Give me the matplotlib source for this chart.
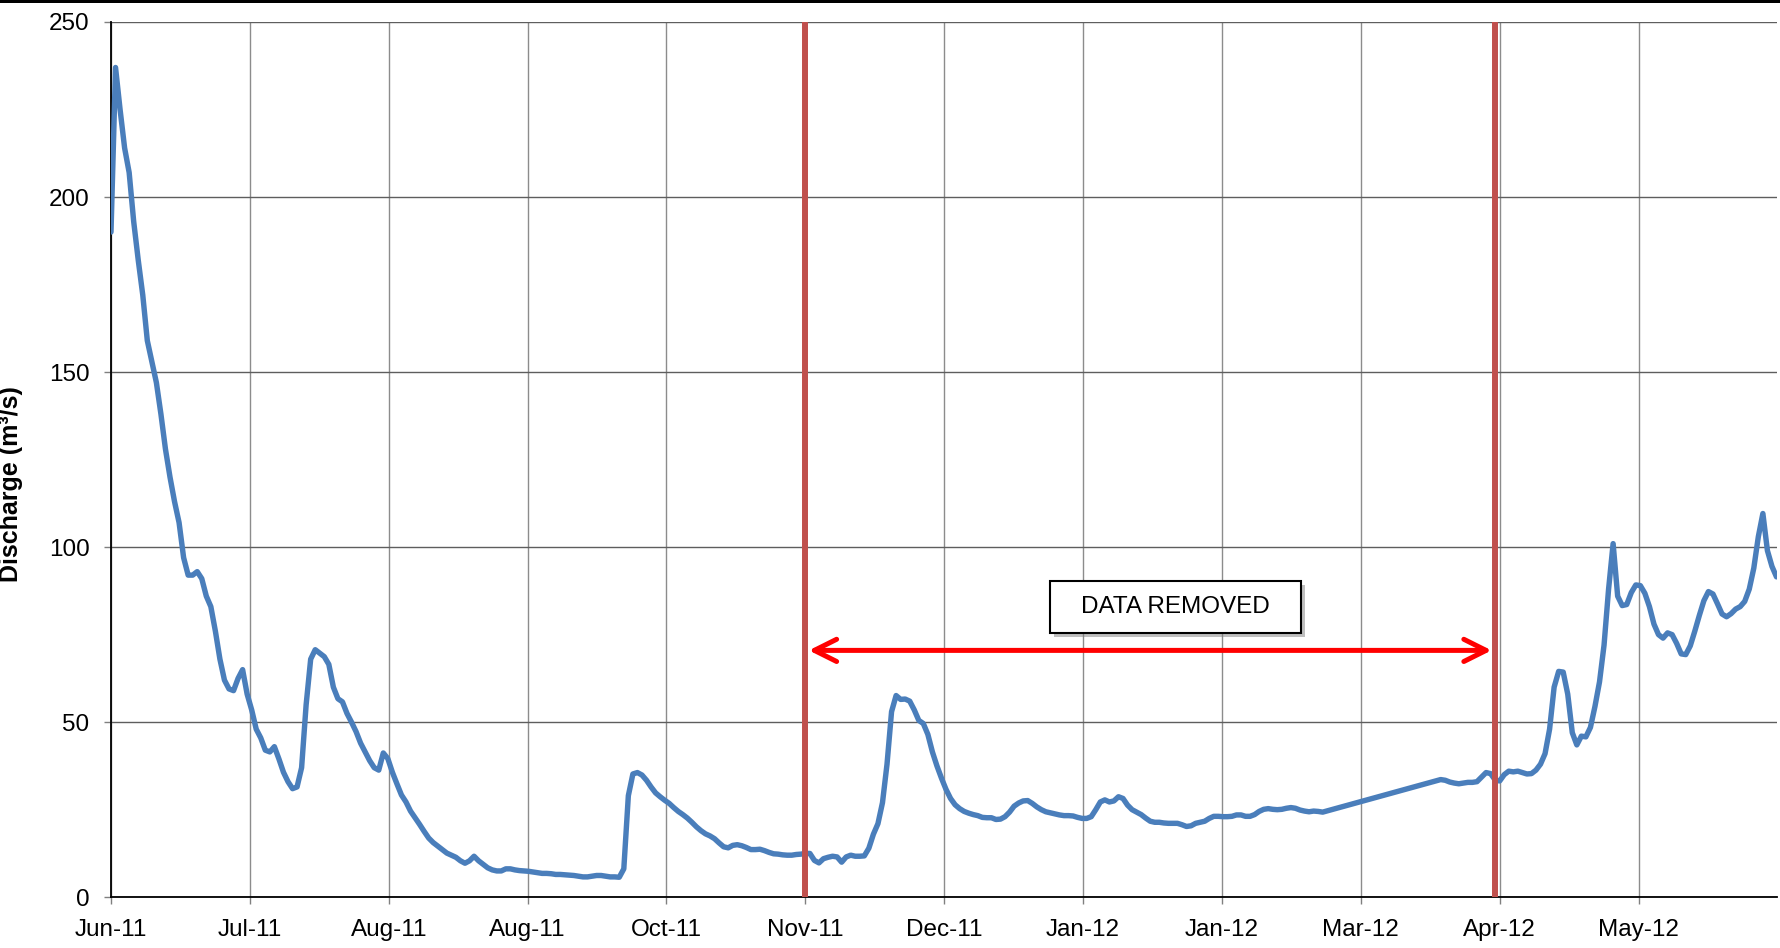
import numpy as np
import pandas as pd
import matplotlib
matplotlib.use("Agg")
import matplotlib.pyplot as plt
import matplotlib.dates as mdates
from matplotlib.ticker import FixedLocator
from matplotlib.patches import Rectangle, FancyArrowPatch
from matplotlib import patheffects as pe

plt.rcParams['font.family'] = ['Liberation Sans', 'DejaVu Sans']

# ---------------- data ----------------
start_a = "2011-06-01"
flow_a = [
    190, 237, 225, 214, 207, 193, 182, 172, 159, 153, 147, 138, 128, 120, 113, 107,
    97, 92, 92, 93, 91, 86, 83, 76, 68, 62, 59.5, 59, 62.5, 65, 58, 53.5,
    48, 45.5, 42, 41.5, 43, 39.5, 35.7, 33, 31, 31.5, 37, 55, 68, 70.7, 69.7, 68.7,
    66.5, 60, 56.7, 55.8, 52.5, 50, 47.3, 44, 41.5, 39, 37, 36.3, 41.2, 39.6, 35.7, 32.4,
    29.2, 27.2, 24.6, 22.7, 20.8, 18.8, 16.9, 15.6, 14.6, 13.6, 12.6, 12, 11.4, 10.4, 9.7, 10.4,
    11.7, 10.4, 9.4, 8.4, 7.8, 7.5, 7.5, 8.1, 8.1, 7.8, 7.6, 7.5, 7.4, 7.2, 7.0, 6.8,
    6.8, 6.7, 6.5, 6.5, 6.4, 6.3, 6.2, 6.0, 5.8, 5.8, 6.0, 6.2, 6.2, 6.0, 5.8, 5.8,
    5.7, 8.1, 29, 35.2, 35.6, 34.9, 33.4, 31.5, 29.8, 28.7, 27.7, 26.8, 25.6, 24.5, 23.6, 22.6,
    21.4, 20.1, 19.0, 18.1, 17.5, 16.7, 15.5, 14.4, 14.1, 14.8, 15.0, 14.7, 14.2, 13.6, 13.6, 13.7,
    13.3, 12.8, 12.4, 12.3, 12.1, 12.0, 12.0, 12.2, 12.3, 12.5, 12.5, 10.5, 9.8, 11, 11.4, 11.7,
    11.5, 10.0, 11.5, 12.0, 11.7, 11.7, 11.8, 14, 18, 21, 27, 38, 53, 57.6, 56.5, 56.6,
    56, 53.5, 50.5, 49.6, 46.5, 41.5, 37.5, 34, 30.8, 28.2, 26.4, 25.3, 24.5, 24, 23.6, 23.3,
    22.8, 22.7, 22.7, 22.2, 22.3, 23, 24.3, 26, 26.9, 27.5, 27.6, 26.8, 25.8, 25, 24.4, 24.1,
    23.8, 23.5, 23.3, 23.3, 23.2, 22.8, 22.5, 22.5, 23, 25, 27.2, 27.8, 27.2, 27.5, 28.7, 28.2,
    26.3, 25, 24.3, 23.6, 22.6, 21.7, 21.4, 21.4, 21.2, 21.1, 21.1, 21.1, 20.7, 20.2, 20.4, 21.1,
    21.4, 21.7, 22.5, 23.1, 23.1, 23, 23, 23.1, 23.5, 23.5, 23.1, 23.1, 23.6, 24.5, 25.1, 25.3,
    25.1, 25, 25.1, 25.4, 25.6, 25.4, 24.9, 24.6, 24.4, 24.6, 24.5, 24.3,
]
start_b = "2012-03-20"
flow_b = [
    33.6, 33.4, 32.9, 32.6, 32.4, 32.6, 32.8, 32.8, 33, 34.3, 35.6, 35.3, 33.5, 33.2, 35, 36,
    35.8, 36, 35.6, 35.2, 35.3, 36.3, 38, 41, 48, 60, 64.5, 64.3, 58, 47, 43.5, 46,
    45.8, 48.5, 54.5, 61.5, 72, 88, 101, 86, 83.3, 83.6, 87, 89.2, 89, 86.8, 83, 78,
    75, 74, 75.5, 75, 72.5, 69.5, 69.3, 71.8, 76, 80.5, 84.7, 87.3, 86.6, 83.8, 80.9, 80.1,
    81, 82.3, 83, 84.5, 88, 94, 103, 109.6, 99, 94.5, 91.5,
]
removed_start = "2011-11-01"
removed_end = "2012-04-01"
arrow_level = 70.5
annotation_text = "DATA REMOVED"
y_label = "Discharge (m³/s)"
y_ticks = [0, 50, 100, 150, 200, 250]
tick_step_days = 30.6
n_ticks = 12

# ---------------- figure ----------------
dates_a = pd.date_range(start_a, periods=len(flow_a), freq="D")
dates_b = pd.date_range(start_b, periods=len(flow_b), freq="D")
xs = mdates.date2num(dates_a.append(dates_b).to_pydatetime())
ys = np.array(flow_a + flow_b, dtype=float)

fig = plt.figure(figsize=(17.8, 9.48), dpi=100)
ax = fig.add_axes([0.06236, 0.05359, 0.99854 - 0.06236, 0.9768 - 0.05359])

x0 = mdates.date2num(pd.Timestamp(start_a).to_pydatetime())
ticks = x0 + tick_step_days * np.arange(n_ticks)
ax.set_xlim(x0, x0 + tick_step_days * n_ticks)
ax.set_ylim(y_ticks[0], y_ticks[-1])
ax.xaxis.set_major_locator(FixedLocator(ticks))
ax.xaxis.set_major_formatter(mdates.DateFormatter('%b-%y'))
ax.set_yticks(y_ticks)

ax.grid(axis='y', color='#5e5e5e', lw=1.0, zorder=0)
ax.grid(axis='x', color='#8c8c8c', lw=1.0, zorder=0)
ax.set_axisbelow(True)
for s in ['top', 'right']:
    ax.spines[s].set_visible(False)
for s in ['left', 'bottom']:
    ax.spines[s].set_color('black')
    ax.spines[s].set_linewidth(1.3)

ax.tick_params(axis='both', direction='out', length=5, width=1, color='#808080',
               labelsize=17.5, labelcolor='black')
ax.tick_params(axis='x', pad=10.5)
ax.tick_params(axis='y', pad=10.5)

ax.plot(xs, ys, color='#4A7EBB', lw=3.9, solid_joinstyle='round',
        solid_capstyle='round', zorder=3)

xr1 = mdates.date2num(pd.Timestamp(removed_start).to_pydatetime())
xr2 = mdates.date2num(pd.Timestamp(removed_end).to_pydatetime())
for xr in (xr1, xr2):
    ax.axvline(xr, color='#C0504D', lw=4.3, zorder=4)

arrow = FancyArrowPatch((xr1, arrow_level), (xr2, arrow_level),
                        arrowstyle='<->,head_length=16,head_width=8',
                        mutation_scale=1, color='#FF0000', lw=3.6,
                        shrinkA=2.5, shrinkB=2.5, zorder=5,
                        capstyle='round', joinstyle='round')
ax.add_patch(arrow)

box = Rectangle((0.5635, 0.3019), 0.7139 - 0.5635, 0.3614 - 0.3019,
                transform=ax.transAxes, facecolor='white', edgecolor='black',
                lw=1.5, zorder=6)
box.set_path_effects([pe.SimplePatchShadow(offset=(3, -3), shadow_rgbFace='#808080', alpha=0.5),
                      pe.Normal()])
ax.add_patch(box)
ax.text((0.5635 + 0.7139) / 2, (0.3019 + 0.3614) / 2, annotation_text,
        transform=ax.transAxes, ha='center', va='center', fontsize=17.5, zorder=7)

ax.set_ylabel(y_label, fontsize=18, fontweight='bold')
ax.yaxis.set_label_coords(-0.0528, 0.472)

fig.add_artist(Rectangle((0, 1 - 3 / 948), 1, 3 / 948, transform=fig.transFigure,
                         facecolor='black', edgecolor='none'))

fig.savefig("out.png", dpi=100)
